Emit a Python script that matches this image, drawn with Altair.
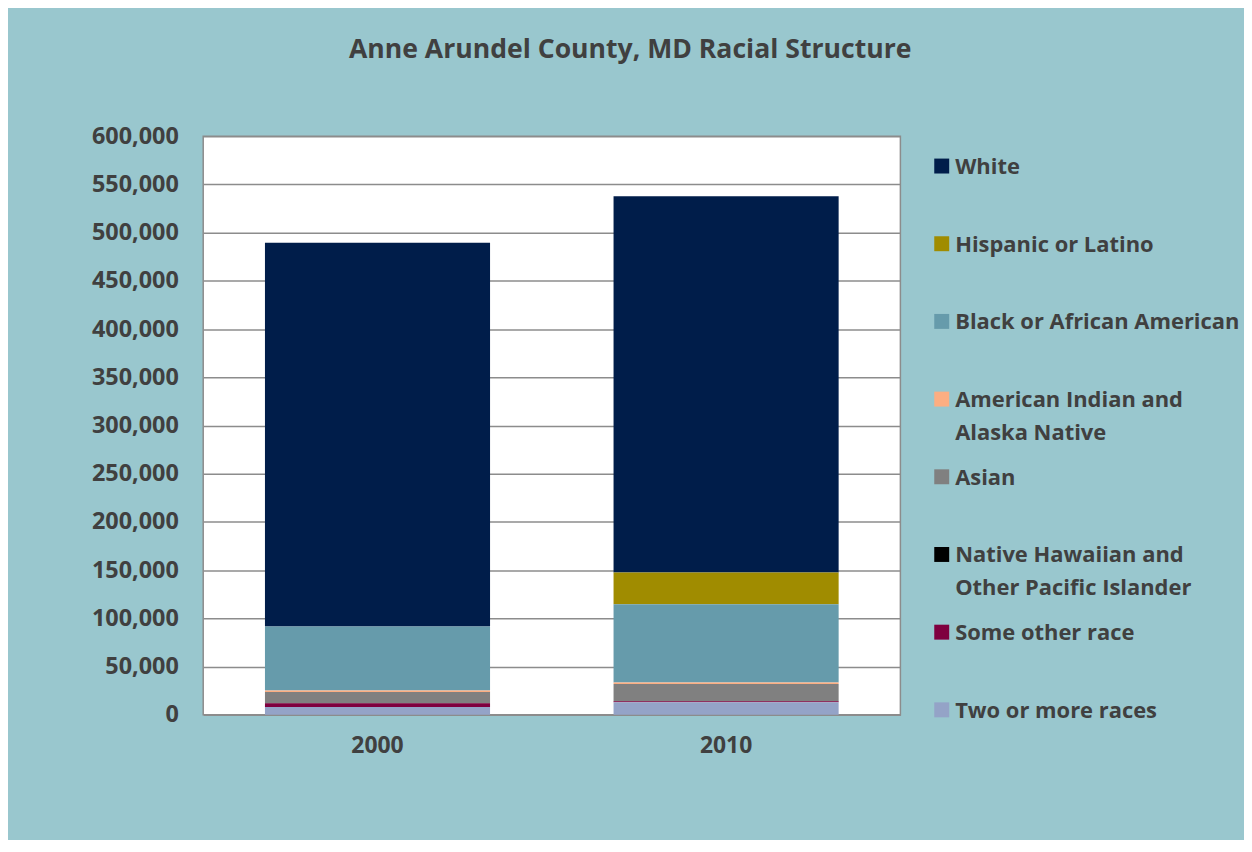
import altair as alt
import pandas as pd

years = ["2000", "2010"]
races = [
    "White",
    "Hispanic or Latino",
    "Black or African American",
    "American Indian and Alaska Native",
    "Asian",
    "Native Hawaiian and Other Pacific Islander",
    "Some other race",
    "Two or more races",
]
legend_labels = [
    "White",
    "Hispanic or Latino",
    "Black or African American",
    "American Indian and\nAlaska Native",
    "Asian",
    "Native Hawaiian and\nOther Pacific Islander",
    "Some other race",
    "Two or more races",
]
colors = ["#001D4A", "#A08C00", "#669BAB", "#FCAE82", "#808080", "#000000", "#7F003F", "#94A3C7"]
values_2000 = [398000, 0, 66500, 1500, 11300, 300, 3800, 8200]
values_2010 = [390000, 33000, 81200, 1500, 17600, 400, 1000, 13000]

rows = []
for i, r in enumerate(races):
    rows.append({"year": "2000", "race": r, "value": values_2000[i], "stack": len(races) - i})
    rows.append({"year": "2010", "race": r, "value": values_2010[i], "stack": len(races) - i})
df = pd.DataFrame(rows)

leg = pd.DataFrame({"race": races, "label": legend_labels})

FONT = "Open Sans"
TXT = "#404040"
color_scale = alt.Scale(domain=races, range=colors)

bars = alt.Chart(df).mark_bar(size=226).encode(
    x=alt.X("year:N", title=None,
            scale=alt.Scale(paddingInner=0.354, paddingOuter=0.177),
            axis=alt.Axis(labelAngle=0, ticks=False, domain=False, labelPadding=20,
                          labelFontSize=23, labelFont=FONT, labelFontWeight="bold", labelColor=TXT)),
    y=alt.Y("value:Q", title=None, stack="zero",
            scale=alt.Scale(domain=[0, 600000], nice=False),
            axis=alt.Axis(values=list(range(0, 600001, 50000)), format=",d", ticks=False, domain=False,
                          labelPadding=25, labelFontSize=23.5, labelFont=FONT, labelFontWeight="bold",
                          labelColor=TXT, gridColor="#8C8C8C", gridWidth=1.5)),
    color=alt.Color("race:N", scale=color_scale, legend=None),
    order=alt.Order("stack:Q", sort="ascending"),
).properties(width=700, height=581,
             view=alt.ViewBackground(fill="white", stroke="#8C8C8C", strokeWidth=1.5))

ly = alt.Y("race:N", sort=races, axis=None, scale=alt.Scale(range=[30, 576], padding=0))
swatch = alt.Chart(leg).mark_square(size=225, opacity=1).encode(
    x=alt.value(11.5), y=ly,
    color=alt.Color("race:N", scale=color_scale, legend=None),
)
labels = alt.Chart(leg).mark_text(align="left", baseline="alphabetic", dy=8, lineBreak="\n",
                                  lineHeight=33, font=FONT, fontWeight="bold", fontSize=22,
                                  color=TXT).encode(
    x=alt.value(25), y=ly, text="label:N",
)
legend_chart = alt.layer(swatch, labels).properties(width=290, height=581,
                                                     view=alt.ViewBackground(fill="transparent", strokeWidth=0))

chart = alt.hconcat(bars, legend_chart, spacing=30, bounds="flush").properties(
    title=alt.TitleParams("Anne Arundel County, MD Racial Structure", font=FONT, fontSize=26.7,
                          fontWeight="bold", color=TXT, anchor="middle", offset=60, dx=-35),
    background="#99C7CE",
    padding={"left": 82, "top": 27, "right": 4, "bottom": 80},
).configure_view(strokeWidth=0)

chart.save("out.html", embed_options={"renderer": "svg", "actions": False})
